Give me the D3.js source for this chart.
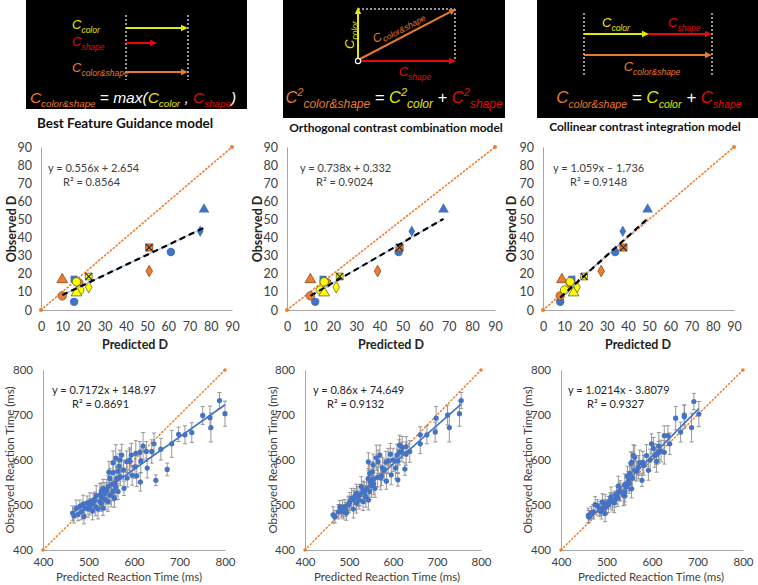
<!DOCTYPE html>
<html><head><meta charset="utf-8">
<script src="https://cdn.jsdelivr.net/npm/d3@7"></script>
<style>body{margin:0;background:#fff}svg{display:block}text{white-space:pre}</style>
</head><body><svg id="c" width="758" height="585"></svg>
<script>
// ---------------- DATA ----------------
// Middle row: discriminability D for 15 conditions
const dCondition = ["A","A","A","A","A","B","B","B","B","B","C","C","C","C","C"];
const dItem = ["triangle","diamond","circle","square","circle","xsquare","diamond","triangle","circle","circle","x","diamond","circle","circle","triangle"];
const dObserved = [55.5, 43.5, 32, 17, 4.5, 34.5, 21.5, 16.8, 7.8, 15, 18.5, 12.6, 15.6, 11, 9.5];
const dPredBFG  = [76.8, 75, 61.2, 15.6, 15.6, 51, 51, 10, 10, 17.8, 22.5, 22.5, 16.7, 18.3, 16.7];
const dPredOCC  = [67.7, 54, 48.3, 15.6, 12.2, 48.7, 39.2, 10.1, 10.1, 17.3, 22.8, 21.3, 16.1, 14.4, 16.1];
const dPredCCI  = [49.3, 37.6, 34, 13.6, 8.1, 37.9, 27.4, 8.9, 8.1, 12.8, 19.4, 16, 12.8, 10.2, 14.4];
const dTicks = [0,10,20,30,40,50,60,70,80,90];
const dFits = [
  {eq:"y = 0.556x + 2.654", r2:"R² = 0.8564", m:0.556, b:2.654},
  {eq:"y = 0.738x + 0.332", r2:"R² = 0.9024", m:0.738, b:0.332},
  {eq:"y = 1.059x – 1.736", r2:"R² = 0.9148", m:1.059, b:-1.736}
];
const modelTitles = ["Best Feature Guidance model","Orthogonal contrast combination model","Collinear contrast integration model"];

// Bottom row: reaction times [predicted, observed, error]
const rtBFG = [[788,732,18],[800,703,28],[767,694,26],[769,672,32],[751,699,20],[727,661,22],[712,656,20],[698,657,16],[683,636,30],[659,624,24],[673,579,14],[648,555,12],[644,636,24],[639,619,26],[627,619,22],[620,631,30],[629,582,22],[613,617,24],[614,551,20],[604,615,28],[594,611,26],[591,597,30],[584,596,24],[602,585,26],[606,565,24],[573,611,24],[569,600,22],[560,604,30],[554,594,26],[567,586,28],[565,575,22],[554,572,20],[545,573,24],[577,578,22],[570,563,20],[562,559,26],[547,559,22],[558,548,28],[550,545,26],[543,541,24],[578,537,16],[565,530,18],[554,531,22],[547,522,20],[540,533,24],[532,537,20],[528,531,18],[525,522,26],[532,516,20],[517,521,22],[514,511,18],[510,504,22],[503,507,20],[497,504,16],[492,493,14],[499,491,18],[509,487,20],[521,491,22],[528,504,18],[538,511,22],[532,493,16],[488,502,20],[481,497,14],[473,493,18],[465,482,16],[468,476,16],[477,479,14],[484,485,18],[490,474,16],[528,518,20],[536,526,24],[550,522,26],[557,515,20],[543,508,22],[525,508,16],[516,496,20],[503,496,18],[560,540,20],[590,600,24],[615,598,26],[596,566,22],[585,560,20]];
const rtOCC = [[755,732,18],[751,703,28],[728,672,32],[724,700,22],[698,693,26],[696,662,22],[677,656,20],[662,656,18],[662,636,22],[638,619,24],[630,614,26],[627,580,14],[621,628,24],[615,633,22],[614,617,28],[609,611,24],[611,598,26],[606,582,24],[611,556,14],[596,567,22],[594,613,24],[589,598,28],[584,595,24],[585,553,18],[576,582,24],[574,565,22],[570,611,22],[566,596,26],[562,605,28],[555,589,24],[553,574,22],[547,570,20],[544,559,22],[544,596,20],[556,558,24],[551,543,26],[559,537,20],[547,530,18],[540,536,22],[532,533,20],[528,541,22],[525,522,24],[517,526,20],[513,519,18],[506,515,22],[502,508,20],[498,500,18],[491,496,16],[485,493,18],[479,496,14],[487,485,16],[494,482,16],[510,491,20],[517,504,22],[523,511,20],[538,519,24],[532,508,20],[544,511,22],[464,478,18],[468,474,14],[476,485,16],[500,502,18],[520,519,22],[535,527,24],[556,547,24],[565,562,22],[580,578,24],[600,600,26],[620,618,22],[630,630,22],[572,560,26],[548,552,20],[510,512,20],[492,490,16],[483,487,14]];
const rtCCI = [[692,730,18],[703,702,28],[687,672,32],[671,700,22],[671,696,26],[663,662,22],[652,693,26],[639,636,24],[635,654,22],[627,654,22],[627,617,26],[615,617,24],[615,631,30],[606,610,26],[610,597,24],[599,636,22],[603,626,24],[592,577,22],[588,610,24],[578,555,14],[573,594,28],[562,606,26],[559,610,24],[555,595,22],[554,592,26],[562,577,22],[551,570,24],[546,564,22],[544,540,20],[555,536,20],[540,529,22],[537,522,24],[529,529,20],[526,542,22],[522,522,20],[518,513,18],[517,505,22],[513,507,20],[510,518,22],[504,501,18],[500,496,16],[497,503,20],[491,507,18],[486,492,16],[480,498,14],[475,501,18],[489,485,16],[497,481,18],[471,485,16],[460,477,16],[461,474,14],[467,483,14],[530,532,22],[540,545,24],[548,553,22],[557,560,24],[566,575,22],[570,584,26],[580,595,24],[596,600,24],[610,612,22],[620,620,24],[582,588,22],[540,520,20],[525,515,18],[508,509,18],[494,493,16],[484,489,14],[550,548,22]];
const rtTicks = [400,500,600,700,800];
const rtFits = [
  {eq:"y = 0.7172x + 148.97", r2:"R² = 0.8691", m:0.7172, b:148.97},
  {eq:"y = 0.86x + 74.649", r2:"R² = 0.9132", m:0.86, b:74.649},
  {eq:"y = 1.0214x - 3.8079", r2:"R² = 0.9327", m:1.0214, b:-3.8079}
];

// ---------------- DRAW ----------------
const svg = d3.select("#c");
svg.append("rect").attr("width",758).attr("height",585).attr("fill","#fff");
const YEL="#e3ea00", RED="#e20a0a", ORA="#e87a2c", WHITE="#ffffff";
const SANS="Lato, 'Open Sans', sans-serif";

function rich(g, x, y, parts, anchor, transform){
  const t = g.append("text").attr("x",x).attr("y",y)
    .attr("font-family","'Liberation Sans', Arial, sans-serif").attr("font-style","italic")
    .attr("text-anchor", anchor||"start");
  let cur = 0;
  parts.forEach(p=>{
    const s = p.shift||0;
    const ts = t.append("tspan").attr("font-size",p.size).attr("fill",p.color).text(p.t);
    if (s!==cur){ ts.attr("dy", s-cur); cur=s; }
  });
  if (transform) t.attr("transform",transform);
  return t;
}
function arrow(g,x1,y1,x2,y2,color,w){
  const a=Math.atan2(y2-y1,x2-x1), L=7, H=3.2;
  const bx=x2-L*Math.cos(a), by=y2-L*Math.sin(a);
  g.append("line").attr("x1",x1).attr("y1",y1).attr("x2",bx).attr("y2",by).attr("stroke",color).attr("stroke-width",w||2);
  g.append("path").attr("d",`M${x2},${y2}L${bx-H*Math.sin(a)},${by+H*Math.cos(a)}L${bx+H*Math.sin(a)},${by-H*Math.cos(a)}Z`).attr("fill",color);
}
function dashed(g,x1,y1,x2,y2){
  g.append("line").attr("x1",x1).attr("y1",y1).attr("x2",x2).attr("y2",y2)
   .attr("stroke","#c8c8c8").attr("stroke-width",1.5).attr("stroke-dasharray","2,2");
}
const C = (color, sub, big, small, extra)=>[{t:"C",color,size:big},{t:sub,color,size:small,shift:extra||big*0.28}];

// Top panel 1
const t1 = svg.append("g");
t1.append("rect").attr("x",26).attr("y",0).attr("width",221).attr("height",109).attr("fill","#000");
dashed(t1,126,15,126,80); dashed(t1,188,15,188,80);
arrow(t1,126,28,188,28,YEL,2); arrow(t1,126,43,157,43,RED,2); arrow(t1,126,72,188,72,ORA,2);
rich(t1,72,29,C(YEL,"color",13,8.5));
rich(t1,72,46,C(RED,"shape",13,8.5));
rich(t1,72,72,C(ORA,"color&shape",13,8.5));
rich(t1,133,103,[...C(ORA,"color&shape",15.5,9.8),{t:" = max(",color:WHITE,size:15.5},...C(YEL,"color",15.5,9.8),{t:" , ",color:WHITE,size:15.5},...C(RED,"shape",15.5,9.8),{t:")",color:WHITE,size:15.5}],"middle");

// Top panel 2
const t2 = svg.append("g");
t2.append("rect").attr("x",283).attr("y",0).attr("width",222).attr("height",118).attr("fill","#000");
dashed(t2,358,9,455,9); dashed(t2,455,9,455,61);
arrow(t2,358,59,358,7,YEL,2);
arrow(t2,361,61,456,61,RED,2);
arrow(t2,360,59,456,9,ORA,2);
t2.append("circle").attr("cx",358).attr("cy",61).attr("r",2.6).attr("fill","#000").attr("stroke","#fff").attr("stroke-width",1.2);
rich(t2,0,0,C(YEL,"color",13,8.5),"middle","translate(354,35) rotate(-90)");
rich(t2,0,0,C(ORA,"color&shape",12,8.5),"middle","translate(400,30) rotate(-28)");
rich(t2,415,76,C(RED,"shape",13,8.5),"middle");
rich(t2,394,103,[{t:"C",color:ORA,size:16.5},{t:"2",color:ORA,size:11,shift:-7},{t:"color&shape",color:ORA,size:12,shift:5},
  {t:" = ",color:WHITE,size:16.5},{t:"C",color:YEL,size:16.5},{t:"2",color:YEL,size:11,shift:-7},{t:"color",color:YEL,size:12,shift:5},
  {t:" + ",color:WHITE,size:16.5},{t:"C",color:RED,size:16.5},{t:"2",color:RED,size:11,shift:-7},{t:"shape",color:RED,size:12,shift:5}],"middle");

// Top panel 3
const t3 = svg.append("g");
t3.append("rect").attr("x",537).attr("y",0).attr("width",221).attr("height",118).attr("fill","#000");
dashed(t3,584,13,584,75); dashed(t3,712,13,712,75);
arrow(t3,584,34,649,34,YEL,2); arrow(t3,648,34,712,34,RED,2);
arrow(t3,584,55,712,55,ORA,2);
rich(t3,602,27,C(YEL,"color",13,8.5));
rich(t3,668,27,C(RED,"shape",13,8.5));
rich(t3,652,71,C(ORA,"color&shape",13,8.5),"middle");
rich(t3,649,103,[...C(ORA,"color&shape",17,10.5),{t:" = ",color:WHITE,size:17},...C(YEL,"color",17,10.5),{t:" + ",color:WHITE,size:17},...C(RED,"shape",17,10.5)],"middle");

// Titles
[[125,128,13.5],[396,132,12],[645,131,12]].forEach((p,i)=>{
  svg.append("text").attr("x",p[0]).attr("y",p[1]).attr("text-anchor","middle")
    .attr("font-family",SANS).attr("font-weight","bold").attr("font-size",p[2]).attr("fill","#111").text(modelTitles[i]);
});

// Middle row
const dCol = {A:"#4472C4", B:"#ED7D31", C:"#FFFF00"};
const dStroke = {A:"#2f528f", B:"#7a3d10", C:"#555500"};
function dMarker(g, cx, cy, item, cond){
  const f=dCol[cond], s=dStroke[cond];
  const sym = {triangle:d3.symbolTriangle, diamond:d3.symbolDiamond, circle:d3.symbolCircle, square:d3.symbolSquare, xsquare:d3.symbolSquare, x:d3.symbolSquare}[item];
  const size = {triangle:50, diamond:38, circle:56, square:50, xsquare:52, x:46}[item];
  g.append("path").attr("d",d3.symbol(sym,size)()).attr("transform",`translate(${cx},${cy})`)
    .attr("fill",f).attr("stroke",cond==="A"?"none":s).attr("stroke-width",0.7);
  if(item==="xsquare"||item==="x"){
    g.append("path").attr("d","M-3.3,-3.3L3.3,3.3M-3.3,3.3L3.3,-3.3").attr("transform",`translate(${cx},${cy})`)
      .attr("stroke","#222").attr("stroke-width",1.1);
  }
}
function styleAxis(sel, size, color){
  sel.select(".domain").attr("stroke","#a6a6a6").attr("stroke-width",1);
  sel.selectAll("text").attr("font-family",SANS).attr("font-size",size).attr("fill",color);
}
function dPanel(i, x0, x1, pred, yLabX, xLabX, eqX, r2X){
  const x = d3.scaleLinear().domain([0,90]).range([x0,x1]);
  const y = d3.scaleLinear().domain([0,90]).range([310,147]);
  const g = svg.append("g");
  const ay = g.append("g").attr("transform",`translate(${x0},0)`).call(d3.axisLeft(y).tickValues(dTicks).tickSize(0).tickPadding(9));
  styleAxis(ay,12.5,"#404040");
  const ax = g.append("g").attr("transform",`translate(0,310)`).call(d3.axisBottom(x).tickValues(dTicks).tickSize(0).tickPadding(12));
  styleAxis(ax,12.5,"#404040");
  g.append("line").attr("x1",x(0)).attr("y1",y(0)).attr("x2",x(90)).attr("y2",y(90))
    .attr("stroke","#ED7D31").attr("stroke-width",1.6).attr("stroke-dasharray","1.2,2.6").attr("stroke-linecap","round");
  [0,90].forEach(v=>g.append("circle").attr("cx",x(v)).attr("cy",y(v)).attr("r",2).attr("fill","#ED7D31"));
  pred.forEach((p,k)=>dMarker(g,x(p),y(dObserved[k]),dItem[k],dCondition[k]));
  const fit=dFits[i], mn=d3.min(pred), mx=d3.max(pred);
  g.append("line").attr("x1",x(mn)).attr("y1",y(fit.m*mn+fit.b)).attr("x2",x(mx)).attr("y2",y(fit.m*mx+fit.b))
    .attr("stroke","#9dc3e6").attr("stroke-width",1.2);
  g.append("line").attr("x1",x(mn)).attr("y1",y(fit.m*mn+fit.b)).attr("x2",x(mx)).attr("y2",y(fit.m*mx+fit.b))
    .attr("stroke","#000").attr("stroke-width",2.2).attr("stroke-dasharray","6,4");
  g.append("text").attr("x",eqX).attr("y",172).attr("font-family",SANS).attr("font-size",11).attr("fill","#404040").text(fit.eq);
  g.append("text").attr("x",r2X).attr("y",186).attr("font-family",SANS).attr("font-size",11).attr("fill","#404040").text(fit.r2);
  g.append("text").attr("transform",`translate(${yLabX},229) rotate(-90)`).attr("text-anchor","middle")
    .attr("font-family",SANS).attr("font-weight","bold").attr("font-size",12.5).attr("fill","#222").text("Observed D");
  g.append("text").attr("x",xLabX).attr("y",349).attr("text-anchor","middle")
    .attr("font-family",SANS).attr("font-weight","bold").attr("font-size",12.5).attr("fill","#222").text("Predicted D");
}
dPanel(0,41,232,dPredBFG,16,135,48,63);
dPanel(1,287,495,dPredOCC,262,391,300,316);
dPanel(2,543,734,dPredCCI,516,638,553,570);

// Bottom row
function rtPanel(i, x0, x1, data, yLabX, xLabX, eqX, r2X){
  const x = d3.scaleLinear().domain([400,800]).range([x0,x1]);
  const y = d3.scaleLinear().domain([400,800]).range([550,370]);
  const g = svg.append("g");
  const ay = g.append("g").attr("transform",`translate(${x0},0)`).call(d3.axisLeft(y).tickValues(rtTicks).tickSize(0).tickPadding(10));
  styleAxis(ay,11.5,"#404040");
  const ax = g.append("g").attr("transform",`translate(0,550)`).call(d3.axisBottom(x).tickValues(rtTicks).tickSize(0).tickPadding(8));
  styleAxis(ax,11.5,"#404040");
  g.append("line").attr("x1",x(400)).attr("y1",y(400)).attr("x2",x(800)).attr("y2",y(800))
    .attr("stroke","#ED7D31").attr("stroke-width",1.5).attr("stroke-dasharray","1.2,2.6").attr("stroke-linecap","round");
  [400,800].forEach(v=>g.append("circle").attr("cx",x(v)).attr("cy",y(v)).attr("r",1.8).attr("fill","#ED7D31"));
  data.forEach(d=>{
    const cx=x(d[0]);
    g.append("path").attr("d",`M${cx},${y(d[1]-d[2])}V${y(d[1]+d[2])}M${cx-2},${y(d[1]-d[2])}H${cx+2}M${cx-2},${y(d[1]+d[2])}H${cx+2}`)
      .attr("stroke","#8c8c8c").attr("stroke-width",0.9).attr("fill","none");
  });
  data.forEach(d=>g.append("circle").attr("cx",x(d[0])).attr("cy",y(d[1])).attr("r",2.6).attr("fill","#4472C4"));
  const fit=rtFits[i], mn=d3.min(data,d=>d[0]), mx=d3.max(data,d=>d[0]);
  g.append("line").attr("x1",x(mn)).attr("y1",y(fit.m*mn+fit.b)).attr("x2",x(mx)).attr("y2",y(fit.m*mx+fit.b))
    .attr("stroke","#4472C4").attr("stroke-width",1.6);
  g.append("text").attr("x",eqX).attr("y",394).attr("font-family",SANS).attr("font-size",11).attr("fill","#262626").text(fit.eq);
  g.append("text").attr("x",r2X).attr("y",408).attr("font-family",SANS).attr("font-size",11).attr("fill","#262626").text(fit.r2);
  g.append("text").attr("transform",`translate(${yLabX},460) rotate(-90)`).attr("text-anchor","middle")
    .attr("font-family",SANS).attr("font-size",11.5).attr("fill","#404040").text("Observed Reaction Time (ms)");
  g.append("text").attr("x",xLabX).attr("y",581).attr("text-anchor","middle")
    .attr("font-family",SANS).attr("font-size",11.5).attr("fill","#404040").text("Predicted Reaction Time (ms)");
}
rtPanel(0,43,225,rtBFG,14,129,52,72);
rtPanel(1,305,481,rtOCC,277,387,313,327);
rtPanel(2,561,743,rtCCI,532,651,568,587);
</script></body></html>
